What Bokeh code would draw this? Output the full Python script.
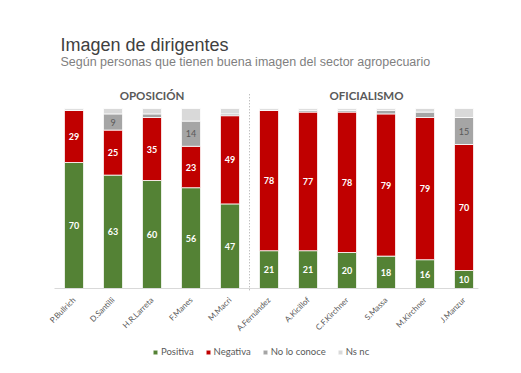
import math
from bokeh.plotting import figure
from bokeh.models import ColumnDataSource, FixedTicker, Legend, LegendItem, Range1d
from bokeh.core.properties import value
from bokeh.embed import file_html
from bokeh.resources import INLINE

names = ["P.Bullrich", "D.Santilli", "H.R.Larreta", "F.Manes", "M.Macri",
         "A.Fernández", "A.Kicillof", "C.F.Kirchner", "S.Massa", "M.Kirchner", "J.Manzur"]
positiva = [70, 63, 60, 56, 47, 21, 21, 20, 18, 16, 10]
negativa = [29, 25, 35, 23, 49, 78, 77, 78, 79, 79, 70]
no_conoce = [0, 9, 2, 14, 1, 0, 1, 1, 2, 3, 15]
ns_nc = [1, 3, 3, 7, 3, 1, 1, 1, 1, 2, 5]
series_names = ["Positiva", "Negativa", "No lo conoce", "Ns nc"]
groups = ["OPOSICIÓN", "OFICIALISMO"]
group_size = [5, 6]

colors = ["#548235", "#C00000", "#A5A5A5", "#D9D9D9"]
FONT = "Lato"

xs = list(range(len(names)))
src = ColumnDataSource(dict(x=xs, pos=positiva, neg=negativa, noc=no_conoce, ns=ns_nc))

# page mapping (figure at page origin): bar i center at x 73.5 + 39 i; y=0 at 288, 1.8 px/unit
W, H = 505, 357
x0 = (0 - 73.5) / 39
x1 = (W - 73.5) / 39
y1 = (288 - 0) / 1.8
y0 = (288 - H) / 1.8

p = figure(width=W, height=H, output_backend="svg", toolbar_location=None,
           x_range=Range1d(x0, x1), y_range=Range1d(y0, y1),
           min_border=0, min_border_left=0, min_border_right=0,
           min_border_top=0, min_border_bottom=0)
p.outline_line_color = None
p.xgrid.visible = False
p.ygrid.visible = False
p.yaxis.visible = False
p.background_fill_color = "white"

rs = p.vbar_stack(["pos", "neg", "noc", "ns"], x="x", width=0.49, color=colors,
                  line_color="white", line_width=0.8, source=src)

# baseline
p.segment(x0=[-0.5], y0=[0], x1=[10.37], y1=[0], line_color="#d9d9d9", line_width=1)

# separator
p.segment(x0=[4.5], y0=[-1], x1=[4.5], y1=[108], line_color="#a6a6a6",
          line_width=1, line_dash="1 2")

# value labels
lx, ly, lt = [], [], []
for i in xs:
    lx.append(i); ly.append(positiva[i] / 2); lt.append(str(positiva[i]))
    lx.append(i); ly.append(positiva[i] + negativa[i] / 2); lt.append(str(negativa[i]))
p.text(x=lx, y=ly, text=lt, text_align="center", text_baseline="middle",
       text_color="white", text_font=value(FONT), text_font_style="bold",
       text_font_size="9px")
gx, gy, gt = [], [], []
for i in xs:
    if no_conoce[i] >= 5:
        gx.append(i); gy.append(positiva[i] + negativa[i] + no_conoce[i] / 2)
        gt.append(str(no_conoce[i]))
p.text(x=gx, y=gy, text=gt, text_align="center", text_baseline="middle",
       text_color="#595959", text_font=value(FONT), text_font_size="9px")

# group headers
hx = [(group_size[0] - 1) / 2, group_size[0] + (group_size[1] - 1) / 2]
p.text(x=hx, y=[(288 - 95) / 1.8] * 2, text=groups, text_align="center",
       text_baseline="middle", text_color="#595959", text_font=value(FONT),
       text_font_style="bold", text_font_size="11.5px")

# titles
p.text(x=[(60 - 73.5) / 39], y=[(288 - 44) / 1.8], text=["Imagen de dirigentes"],
       text_align="left", text_baseline="middle", text_color="#404040",
       text_font=value("Liberation Sans"), text_font_size="18px")
p.text(x=[(60 - 73.5) / 39], y=[(288 - 61) / 1.8],
       text=["Según personas que tienen buena imagen del sector agropecuario"],
       text_align="left", text_baseline="middle", text_color="#7f7f7f",
       text_font=value("Liberation Sans"), text_font_size="12.5px")

# x axis
ax = p.xaxis[0]
ax.fixed_location = 0
ax.ticker = FixedTicker(ticks=xs)
ax.major_label_overrides = {i: n for i, n in enumerate(names)}
ax.major_label_orientation = math.pi / 4
ax.axis_line_color = None
ax.major_tick_line_color = None
ax.minor_tick_line_color = None
ax.major_label_text_font = FONT
ax.major_label_text_font_size = "8px"
ax.major_label_text_color = "#595959"
ax.major_label_standoff = 4

legend = Legend(items=[LegendItem(label=series_names[k], renderers=[rs[k]]) for k in range(4)],
                orientation="horizontal", location=(152, 0),
                label_text_font=FONT, label_text_font_size="9.5px",
                label_text_color="#595959", glyph_width=6, glyph_height=6,
                spacing=11, border_line_color=None, background_fill_alpha=0,
                margin=0, padding=2, label_standoff=3)
p.add_layout(legend)

open("out.html", "w").write(file_html(p, INLINE))
